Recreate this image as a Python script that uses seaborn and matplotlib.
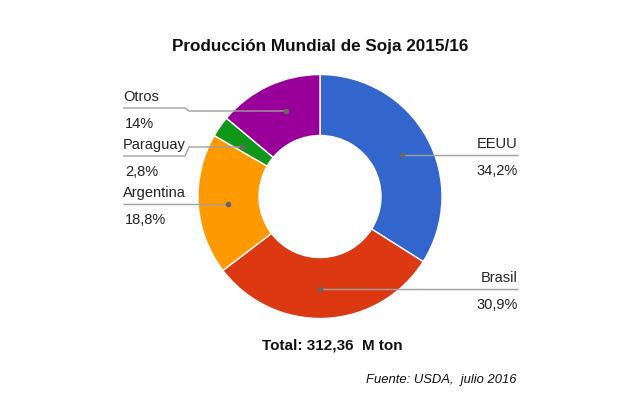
import numpy as np
import matplotlib
matplotlib.use("Agg")
import matplotlib.pyplot as plt
import seaborn as sns

# data
countries = ["EEUU", "Brasil", "Argentina", "Paraguay", "Otros"]
shares = [34.2, 30.9, 18.8, 2.8, 14.0]
colors = ["#3366CC", "#DC3912", "#FF9900", "#109618", "#990099"]
title = "Producción Mundial de Soja 2015/16"
total_text = "Total: 312,36  M ton"
source_text = "Fuente: USDA,  julio 2016"

# label layout: pixel row of the underline, pixel row of the marker dot, side
label_line_y = [155, 289, 204, 156, 108]
dot_y = [155, 289, 204, 147, 111]
label_side = ["right", "right", "left", "left", "left"]

W, H = 640, 396
CX, CY, R = 320, 196.5, 122


def py(y):
    # pixel row -> data y (axes run bottom-up)
    return H - y


sns.set_theme(style="white")
plt.rcParams["font.family"] = ["Liberation Sans", "DejaVu Sans"]

fig = plt.figure(figsize=(W / 100, H / 100), dpi=100)
ax = fig.add_axes([0, 0, 1, 1])

wedges, _ = ax.pie(
    shares,
    colors=colors,
    startangle=90,
    counterclock=False,
    center=(CX, py(CY)),
    radius=R,
    wedgeprops=dict(width=R * 0.5, edgecolor="white", linewidth=1),
)
# pie() resets the limits, so set the pixel-space frame afterwards
ax.set_xlim(0, W)
ax.set_ylim(0, H)
ax.set_aspect("equal")
ax.axis("off")

r_mid = R * 0.755
for w, name, val, ly, dyp, side in zip(wedges, countries, shares,
                                       label_line_y, dot_y, label_side):
    # dot sits on the mid ring of the slice, at the requested row
    off = CY - dyp
    dx = CX + (1 if side == "right" else -1) * np.sqrt(max(r_mid ** 2 - off ** 2, 0))
    dy = py(dyp)
    pct = f"{val:g}".replace(".", ",") + "%"
    if side == "left":
        tx, bend, ha = 123, 185, "left"
        xs = [tx, bend, bend + 4, dx]
    else:
        tx, bend, ha = 518, 470, "right"
        xs = [tx, bend, bend - 4, dx]
    ys = [py(ly), py(ly), dy, dy]
    ax.plot(xs, ys, color="#a0a0a0", lw=1, solid_capstyle="butt", zorder=3)
    ax.plot(dx, dy, "o", color="#666666", ms=3, zorder=4)
    ax.text(tx, py(ly - 11), name, ha=ha, va="center", fontsize=10.5, color="#222222")
    ax.text(tx + (2 if side == "left" else 0), py(ly + 16), pct, ha=ha,
            va="center", fontsize=10.5, color="#222222")

ax.text(320, py(47), title, ha="center", va="center", fontsize=12.3,
        fontweight="bold", color="#111111")
ax.text(332, py(346), total_text, ha="center", va="center", fontsize=11,
        fontweight="bold", color="#111111")
ax.text(517, py(380), source_text, ha="right", va="center", fontsize=9.4,
        style="italic", color="#111111")

fig.savefig("out.png", dpi=100)
